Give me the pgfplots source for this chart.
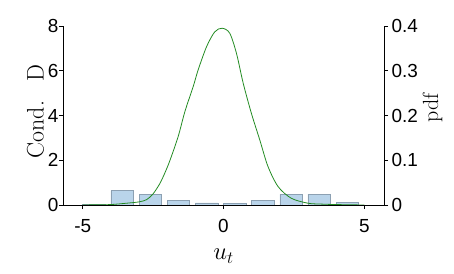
\documentclass[border=0pt]{standalone}
\usepackage{pgfplots}
\pgfplotsset{compat=1.18}
\usepackage{fontspec}
\newfontfamily\arial{Liberation Sans}
\definecolor{barfill}{RGB}{185,212,234}
\definecolor{baredge}{RGB}{140,160,178}
\definecolor{curve}{RGB}{34,139,34}
\begin{document}
\begin{tikzpicture}
\path[use as bounding box] (0,0) rectangle (454bp,274bp);
\begin{axis}[
  at={(63bp,69bp)}, anchor=south west,
  scale only axis, width=321bp, height=179bp,
  xmin=-5.7, xmax=5.7, ymin=0, ymax=8,
  axis x line*=bottom, axis y line*=left,
  axis line style={line width=0.6pt, -},
  tick align=outside, major tick length=4bp,
  tick style={line width=0.6pt, black},
  xtick={-5,0,5}, ytick={0,2,4,6,8},
  /pgf/number format/assume math mode=true,
  ticklabel style={font=\arial\fontsize{19}{19}\selectfont},
  xticklabel style={yshift=-7bp},
  yticklabel style={xshift=3bp},
  xlabel={$u_t$}, ylabel={Cond.\hspace{0.8em}D},
  label style={font=\fontsize{24}{24}\selectfont},
  xlabel style={yshift=-9bp},
  ylabel style={yshift=-3bp, xshift=4bp},
]
\addplot[ybar, bar width=0.8, fill=barfill, draw=baredge, line width=0.5pt] coordinates {
(-4.6,0.02) (-3.6,0.64) (-2.6,0.48) (-1.6,0.21) (-0.6,0.09) (0.4,0.08) (1.4,0.21) (2.4,0.48) (3.4,0.49) (4.4,0.12)
};
\end{axis}
\begin{axis}[
  at={(63bp,69bp)}, anchor=south west,
  scale only axis, width=321bp, height=179bp,
  xmin=-5.7, xmax=5.7, ymin=0, ymax=0.4,
  axis x line=none, axis y line*=right,
  axis line style={line width=0.6pt, -},
  tick align=outside, major tick length=4bp,
  tick style={line width=0.6pt, black},
  ytick={0,0.1,0.2,0.3,0.4},
  yticklabel style={/pgf/number format/fixed, /pgf/number format/precision=1},
  /pgf/number format/assume math mode=true,
  ticklabel style={font=\arial\fontsize{19}{19}\selectfont},
  ylabel={pdf},
  ylabel style={font=\fontsize{22}{22}\selectfont, yshift=2bp, xshift=8bp},
]
\addplot[curve, line width=0.8pt, smooth, tension=0.5] coordinates {
(-5,0) (-4.5,0.0005) (-4,0.001) (-3.44,0.004) (-3.0,0.007) (-2.73,0.012) (-2.5,0.025) (-2.26,0.048) (-2.08,0.072) (-1.90,0.10) (-1.61,0.153) (-1.37,0.209) (-1.07,0.266) (-0.90,0.302) (-0.60,0.354) (-0.31,0.387) (-0.05,0.395) (0.22,0.384) (0.46,0.339) (0.70,0.272) (0.99,0.205) (1.29,0.145) (1.58,0.086) (1.94,0.041) (2.41,0.015) (3.0,0.004) (3.48,0.002) (4,0.001) (5,0)
};
\end{axis}
\end{tikzpicture}
\end{document}
